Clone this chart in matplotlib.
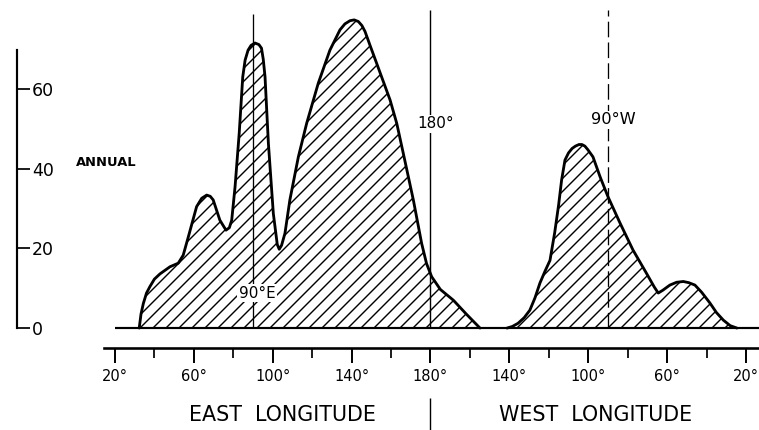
import matplotlib
matplotlib.use("Agg")
import matplotlib.pyplot as plt

# Annual curve, east part (longitude in degrees east, 0-360)
east_lon = [32.3, 33.2, 34.4, 36.0, 37.7, 40.0, 42.8, 47.9, 52.1, 54.6, 57.2, 61.4,
            64.0, 66.5, 68.3, 69.8, 73.2, 76.3, 78.0, 79.2, 80.9, 83.0, 84.8, 86.0,
            87.5, 89.0, 91.0, 93.0, 94.3, 95.2, 96.1, 97.8, 100.3, 102.3, 103.3, 104.5,
            106.2, 108.7, 113.0, 117.2, 123.1, 129.0, 132.0, 134.1, 136.6, 139.2,
            141.3, 143.4, 145.2, 146.8, 149.5, 152.7, 159.5, 162.9, 166.2, 171.3,
            175.5, 178.0, 180.6, 185.0, 191.6, 198.0, 205.1]
east_val = [0.0, 3.5, 6.2, 8.8, 10.4, 12.3, 13.6, 15.4, 16.3, 18.3, 22.9, 30.5,
            32.6, 33.4, 33.1, 32.2, 27.1, 24.6, 25.2, 27.1, 35.5, 48.9, 63.1, 67.3,
            69.8, 71.0, 71.6, 71.2, 70.3, 67.5, 63.1, 46.4, 28.8, 21.0, 19.8, 20.8,
            23.8, 32.2, 43.0, 51.4, 61.5, 69.8, 72.8, 74.9, 76.4, 77.2,
            77.4, 77.0, 76.0, 74.5, 70.8, 66.5, 57.3, 51.4, 43.9, 32.2,
            21.3, 16.2, 12.9, 9.7, 7.0, 3.6, 0.0]

# west part (360 - degrees west)
west_lon = [218.8, 221.5, 224.4, 227.5, 230.4, 233.0, 235.5, 238.0, 240.6, 243.0,
            245.0, 246.5, 248.2, 250.0, 251.8, 253.5, 255.3, 256.8, 258.3, 259.8,
            262.4, 266.0, 270.0, 276.1, 282.7, 289.6, 293.5, 295.5, 297.8, 301.4,
            304.8, 308.2, 311.0, 314.1, 317.5, 321.7, 325.0, 328.5, 332.0, 335.4]
west_val = [0.0, 0.4, 1.2, 2.6, 4.5, 7.6, 11.3, 14.2, 17.0, 24.0,
            31.0, 37.2, 42.2, 44.0, 45.1, 45.7, 46.1, 46.1, 45.7, 44.8,
            43.0, 38.0, 33.0, 26.4, 19.6, 13.7, 10.3, 8.8, 9.5, 10.8,
            11.5, 11.7, 11.4, 10.8, 9.0, 6.3, 3.9, 2.0, 0.6, 0.0]

x_ticks = [20, 60, 100, 140, 180, 220, 260, 300, 340]
x_minor = [40, 80, 120, 160, 200, 240, 280, 320]
x_labels = ["20°", "60°", "100°", "140°", "180°", "140°", "100°", "60°", "20°"]
y_ticks = [0, 20, 40, 60]
meridians = [90, 180, 270]

DPI = 78
plt.rcParams["hatch.linewidth"] = 1.3
fig = plt.figure(figsize=(760 / DPI, 430 / DPI), dpi=DPI)
ax = fig.add_axes([0, 0, 1, 1])
ax.set_xlim(-38.3, 347.1)
ax.set_ylim(-25.6, 82.4)
ax.patch.set_visible(False)

for lon, val in [(east_lon, east_val), (west_lon, west_val)]:
    ax.fill_between(lon, val, 0, facecolor="none", edgecolor="black",
                    hatch="//", linewidth=0, zorder=1)
    ax.plot(lon, val, color="black", lw=2.6, solid_joinstyle="round",
            solid_capstyle="round", zorder=4)

# zero line and meridians
ax.hlines(0, 20, 347, color="black", lw=2.0, zorder=3)
ax.vlines(meridians[0], 0, 78.9, color="black", lw=1.2, zorder=2)
ax.vlines(meridians[1], 0, 79.9, color="black", lw=1.3, zorder=2)
ax.vlines(meridians[2], 0, 79.9, color="black", lw=1.2,
          linestyles=(0, (12, 4)), zorder=2)

white = dict(facecolor="white", edgecolor="none", pad=1.5)
ax.text(92, 8.8, "90°E", fontsize=14, ha="center", va="center", bbox=white, zorder=5)
ax.text(182.8, 51.3, "180°", fontsize=14, ha="center", va="center", bbox=white, zorder=5)
ax.text(272.5, 52.3, "90°W", fontsize=15, ha="center", va="center", bbox=white, zorder=5)
ax.text(15.4, 41.5, "ANNUAL", fontsize=12, fontweight="semibold",
        ha="center", va="center")

# axes
for s in ["top", "right"]:
    ax.spines[s].set_visible(False)
ax.spines["left"].set_position(("data", -29.7))
ax.spines["left"].set_bounds(0, 69.8)
ax.spines["left"].set_linewidth(2.0)
ax.spines["bottom"].set_position(("data", -5.0))
ax.spines["bottom"].set_bounds(14.4, 347)
ax.spines["bottom"].set_linewidth(2.4)

ax.set_yticks(y_ticks)
ax.set_yticklabels([str(v) for v in y_ticks])
ax.tick_params(axis="y", direction="in", length=12, width=1.6, pad=-14, labelsize=16)
for lab in ax.get_yticklabels():
    lab.set_horizontalalignment("left")

ax.set_xticks(x_ticks)
ax.set_xticklabels(x_labels)
ax.set_xticks(x_minor, minor=True)
ax.tick_params(axis="x", which="major", direction="out", length=14, width=1.8,
               pad=5, labelsize=13.5)
ax.tick_params(axis="x", which="minor", direction="out", length=9, width=1.6)

ax.text(104.7, -21.9, "EAST  LONGITUDE", fontsize=19, ha="center", va="center")
ax.text(263.9, -21.9, "WEST  LONGITUDE", fontsize=19, ha="center", va="center")
ax.vlines(180, -26, -17.6, color="black", lw=1.3)

fig.savefig("out.png", dpi=DPI)
